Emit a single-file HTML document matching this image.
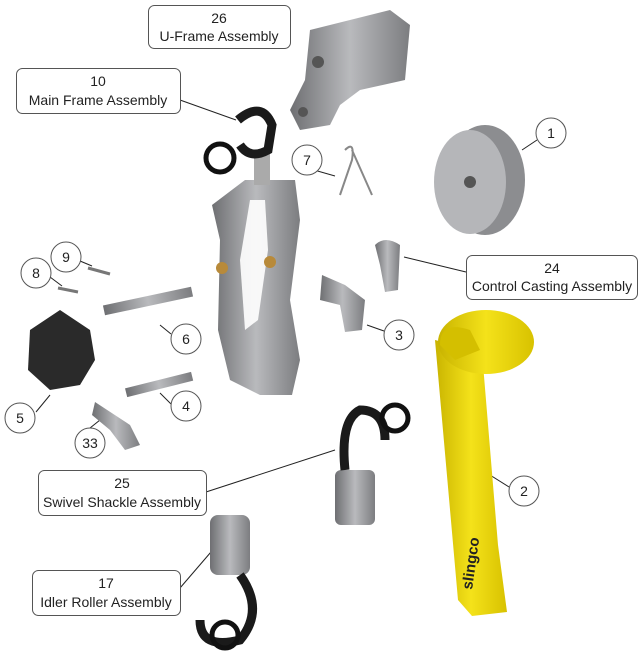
<!DOCTYPE html>
<html><head><meta charset="utf-8"><style>
html,body{margin:0;padding:0;background:#fff;}
svg{display:block;}
text{font-family:"Liberation Sans",sans-serif;font-size:14px;fill:#222;}
</style></head><body>
<svg width="640" height="658" viewBox="0 0 640 658" xmlns="http://www.w3.org/2000/svg">
<defs>
<linearGradient id="g" x1="0" x2="1"><stop offset="0" stop-color="#6e6f72"/><stop offset="0.5" stop-color="#b9babd"/><stop offset="1" stop-color="#7c7d80"/></linearGradient>
<linearGradient id="y" x1="0" x2="1"><stop offset="0" stop-color="#c9b400"/><stop offset="0.5" stop-color="#f4e21a"/><stop offset="1" stop-color="#d8c200"/></linearGradient>
</defs>
<g stroke="#222" stroke-width="1" fill="none">
<line x1="180" y1="100" x2="236" y2="120"/>
<line x1="466" y1="272" x2="404" y2="257"/>
<line x1="206" y1="492" x2="335" y2="450"/>
<line x1="180" y1="588" x2="217" y2="545"/>
<line x1="537" y1="140" x2="522" y2="150"/>
<line x1="293" y1="164" x2="335" y2="176"/>
<line x1="80" y1="261" x2="92" y2="266"/>
<line x1="50" y1="277" x2="62" y2="286"/>
<line x1="171" y1="334" x2="160" y2="325"/>
<line x1="384" y1="331" x2="367" y2="325"/>
<line x1="36" y1="412" x2="50" y2="395"/>
<line x1="171" y1="404" x2="160" y2="393"/>
<line x1="90" y1="428" x2="100" y2="420"/>
<line x1="509" y1="487" x2="482" y2="470"/>
</g>
<!-- U-frame -->
<path d="M310 30 L390 10 L410 25 L405 80 L360 90 L340 105 L330 125 L300 130 L290 110 L305 80 Z" fill="url(#g)"/>
<circle cx="318" cy="62" r="6" fill="#555"/><circle cx="303" cy="112" r="5" fill="#555"/>
<!-- Main frame -->
<path d="M245 180 L295 180 L300 220 L290 300 L300 360 L292 395 L260 395 L230 380 L218 330 L220 240 L212 205 Z" fill="url(#g)"/>
<path d="M250 200 L265 200 L268 250 L258 320 L245 330 L240 260 Z" fill="#fff" opacity="0.9"/>
<rect x="254" y="150" width="16" height="35" fill="#aaa"/>
<circle cx="222" cy="268" r="6" fill="#b88a3a"/><circle cx="270" cy="262" r="6" fill="#b88a3a"/>
<path d="M238 120 Q262 100 272 125 L268 150 Q250 160 240 145" fill="none" stroke="#1a1a1a" stroke-width="9"/>
<circle cx="220" cy="158" r="14" fill="none" stroke="#111" stroke-width="5"/>
<!-- spring 7 -->
<path d="M345 150 Q355 140 352 160 L340 195 M352 150 L372 195" stroke="#888" stroke-width="2" fill="none"/>
<!-- wheel 1 -->
<ellipse cx="485" cy="180" rx="40" ry="55" fill="#8c8d90"/>
<ellipse cx="470" cy="182" rx="36" ry="52" fill="#b5b6b9"/>
<circle cx="470" cy="182" r="6" fill="#555"/>
<!-- control casting 24 -->
<path d="M375 245 Q385 235 400 245 L398 290 L385 292 L380 265 Z" fill="url(#g)"/>
<!-- 3 -->
<path d="M322 275 L345 285 L365 300 L362 330 L345 332 L340 305 L320 300 Z" fill="url(#g)"/>
<!-- pins -->
<rect x="103" y="296" width="90" height="10" transform="rotate(-12 148 301)" fill="url(#g)"/>
<rect x="125" y="380" width="68" height="9" transform="rotate(-14 159 384)" fill="url(#g)"/>
<line x1="88" y1="268" x2="110" y2="274" stroke="#777" stroke-width="3"/>
<line x1="58" y1="288" x2="78" y2="292" stroke="#777" stroke-width="3"/>
<!-- knob 5 -->
<path d="M30 330 L60 310 L90 330 L95 360 L80 385 L50 390 L28 370 Z" fill="#2a2a2a"/>
<!-- 33 -->
<path d="M95 402 L130 425 L140 445 L125 450 L110 430 L92 415 Z" fill="url(#g)"/>
<!-- swivel shackle -->
<rect x="335" y="470" width="40" height="55" rx="6" fill="url(#g)"/>
<path d="M345 470 Q340 420 360 410 Q385 410 385 440" fill="none" stroke="#1a1a1a" stroke-width="9"/>
<circle cx="395" cy="418" r="13" fill="none" stroke="#111" stroke-width="5"/>
<!-- idler roller -->
<rect x="210" y="515" width="40" height="60" rx="8" fill="url(#g)"/>
<path d="M240 575 Q265 610 240 640 Q200 650 200 620" fill="none" stroke="#1a1a1a" stroke-width="9"/>
<circle cx="225" cy="635" r="13" fill="none" stroke="#111" stroke-width="5"/>
<!-- strap 2 -->
<path d="M435 340 L458 600 L472 616 L507 612 L498 545 L482 352 Z" fill="url(#y)"/>
<ellipse cx="486" cy="342" rx="48" ry="32" fill="url(#y)"/>
<path d="M440 345 Q440 320 470 330 L480 350 L455 360 Z" fill="#d4bf00"/>
<text x="472" y="590" transform="rotate(-82 472 590)" style="font-size:15px;font-weight:bold;fill:#222">slingco</text>
<!-- boxes -->
<g fill="#fff" stroke="#555" stroke-width="1">
<rect x="148.5" y="5.5" width="142" height="43" rx="6"/>
<rect x="16.5" y="68.5" width="164" height="45" rx="6"/>
<rect x="466.5" y="255.5" width="171" height="44" rx="6"/>
<rect x="38.5" y="470.5" width="168" height="45" rx="6"/>
<rect x="32.5" y="570.5" width="148" height="45" rx="6"/>
<circle cx="551" cy="133" r="15"/><circle cx="307" cy="160" r="15"/>
<circle cx="66" cy="257" r="15"/><circle cx="36" cy="273" r="15"/>
<circle cx="186" cy="339" r="15"/><circle cx="399" cy="335" r="15"/>
<circle cx="20" cy="418" r="15"/><circle cx="186" cy="406" r="15"/>
<circle cx="90" cy="443" r="15"/><circle cx="524" cy="491" r="15"/>
</g>
<g text-anchor="middle">
<text x="219" y="23">26</text><text x="219" y="41">U-Frame Assembly</text>
<text x="98" y="86">10</text><text x="98" y="105">Main Frame Assembly</text>
<text x="552" y="273">24</text><text x="552" y="291">Control Casting Assembly</text>
<text x="122" y="488">25</text><text x="122" y="507">Swivel Shackle Assembly</text>
<text x="106" y="588">17</text><text x="106" y="607">Idler Roller Assembly</text>
<text x="551" y="138">1</text><text x="307" y="165">7</text>
<text x="66" y="262">9</text><text x="36" y="278">8</text>
<text x="186" y="344">6</text><text x="399" y="340">3</text>
<text x="20" y="423">5</text><text x="186" y="411">4</text>
<text x="90" y="448">33</text><text x="524" y="496">2</text>
</g>
</svg>
</body></html>
